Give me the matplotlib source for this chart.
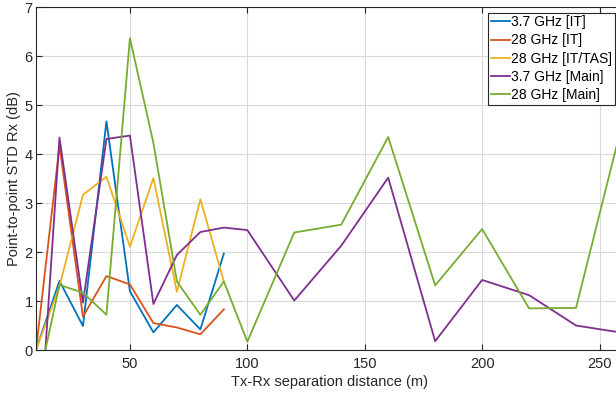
import matplotlib
matplotlib.use("Agg")
import matplotlib.pyplot as plt

plt.rcParams['font.family'] = ['Liberation Sans', 'DejaVu Sans']

x_it = [10, 20, 30, 40, 50, 60, 70, 80, 90]
std_37_it = [0, 1.41, 0.49, 4.67, 1.20, 0.36, 0.92, 0.42, 1.97]
std_28_it = [0, 4.17, 0.68, 1.51, 1.34, 0.55, 0.46, 0.32, 0.83]
std_28_tas = [0, 1.30, 3.17, 3.54, 2.11, 3.51, 1.19, 3.08, 1.40]

x_main = [14, 20, 30, 40, 50, 60, 70, 80, 90, 100, 120, 140, 160, 180, 200, 220, 240, 260]
std_37_main = [0, 4.34, 0.97, 4.31, 4.38, 0.94, 1.94, 2.41, 2.50, 2.45, 1.01, 2.13, 3.52, 0.18, 1.43, 1.12, 0.50, 0.35]
std_28_main = [0, 1.33, 1.17, 0.72, 6.37, 4.23, 1.40, 0.72, 1.40, 0.17, 2.40, 2.56, 4.35, 1.32, 2.47, 0.85, 0.86, 4.69]

labels = ["3.7 GHz [IT]", "28 GHz [IT]", "28 GHz [IT/TAS]", "3.7 GHz [Main]", "28 GHz [Main]"]
colors = ["#0072BD", "#D95319", "#EDB120", "#7E2F8E", "#77AC30"]

W, H = 616, 394
fig = plt.figure(figsize=(W / 100, H / 100), dpi=100)
left, right, bottom, top = 36, 623, 394 - 350, 394 - 7.3
ax = fig.add_axes([left / W, bottom / H, (right - left) / W, (top - bottom) / H])

series = [(x_it, std_37_it), (x_it, std_28_it), (x_it, std_28_tas),
          (x_main, std_37_main), (x_main, std_28_main)]
for (xs, ys), lab, c in zip(series, labels, colors):
    ax.plot(xs, ys, color=c, lw=1.3, label=lab)

ax.set_xlim(10, 260)
ax.set_ylim(0, 7)
ax.set_xticks([50, 100, 150, 200, 250])
ax.set_yticks(range(0, 8))
ax.grid(True, color="#d9d9d9", lw=0.8)
ax.set_axisbelow(True)
ax.tick_params(axis="both", direction="in", top=True, right=True, labelsize=10.5,
               colors="#262626", length=4, width=0.8)
ax.tick_params(axis="y", pad=2.5)
ax.tick_params(axis="x", pad=5)
for s in ax.spines.values():
    s.set_color("#262626")
    s.set_linewidth(0.8)
ax.set_xlabel("Tx-Rx separation distance (m)", fontsize=10.5, color="#262626", labelpad=3)
ax.set_ylabel("Point-to-point STD Rx (dB)", fontsize=10.5, color="#262626", labelpad=2)

leg = ax.legend(loc="upper right", bbox_to_anchor=(615 / W, 1 - 12.5 / H), bbox_transform=fig.transFigure,
                fontsize=10, frameon=True, fancybox=False, edgecolor="#262626",
                handlelength=1.35, handletextpad=0.12, labelspacing=0.3, borderpad=0.2,
                borderaxespad=0, framealpha=1)
leg.get_frame().set_linewidth(0.8)

fig.savefig("out.png", dpi=100)
